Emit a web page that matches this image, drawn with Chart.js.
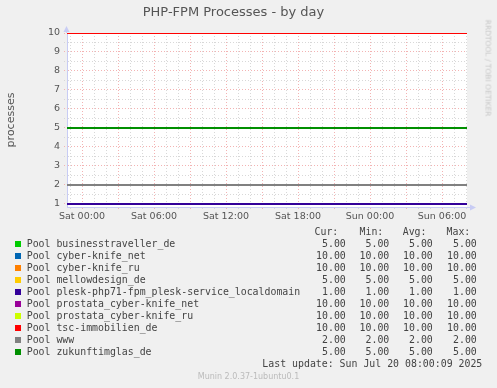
<!DOCTYPE html>
<html>
<head>
<meta charset="utf-8">
<script src="https://cdn.jsdelivr.net/npm/chart.js@4.4.1/dist/chart.umd.min.js"></script>
<style>
  html, body { margin: 0; padding: 0; background: #f0f0f0; }
  #wrap { position: relative; width: 497px; height: 388px; overflow: hidden; font-family: "DejaVu Sans", sans-serif; }
  #chart { position: absolute; left: 0; top: 0; }
  .t { position: absolute; white-space: pre; line-height: 12px; }
  .mono { font-family: "DejaVu Sans Mono", monospace; font-size: 9.9px; color: #444; }
  .sw { position: absolute; width: 6px; height: 6px; }
  #rrd { position: absolute; left: 488px; top: 68px; transform: translate(-50%, -50%) rotate(90deg);
         font-size: 7.5px; color: #c8c8c8; white-space: pre; }
  #munin { position: absolute; left: 0; width: 497px; top: 371px; text-align: center;
           font-size: 8px; color: #bbb; line-height: 12px; }
</style>
</head>
<body>
<div id="wrap">
  <canvas id="chart" width="497" height="227"></canvas>
  <div id="rrd">RRDTOOL / TOBI OETIKER</div>
  <div id="legend"></div>
  <div id="munin">Munin 2.0.37-1ubuntu0.1</div>
</div>
<script>
// pools, in munin drawing order
const pools = ['businesstraveller_de', 'cyber-knife_net', 'cyber-knife_ru', 'mellowdesign_de',
  'plesk-php71-fpm_plesk-service_localdomain', 'prostata_cyber-knife_net', 'prostata_cyber-knife_ru',
  'tsc-immobilien_de', 'www', 'zukunftimglas_de'];
const poolColors = ['#00CC00', '#0066B3', '#FF8000', '#FFCC00', '#330099',
  '#990099', '#CCFF00', '#FF0000', '#808080', '#008F00'];

const curValues = [5, 10, 10, 5, 1, 10, 10, 10, 2, 5];
const minValues = [5, 10, 10, 5, 1, 10, 10, 10, 2, 5];
const avgValues = [5, 10, 10, 5, 1, 10, 10, 10, 2, 5];
const maxValues = [5, 10, 10, 5, 1, 10, 10, 10, 2, 5];

// hours relative to Sat 00:00 (graph spans Fri 22:45 .. Sun 08:05)
const sampleHours = [-1.25, 32.0833];
const xLabelHours = [0, 6, 12, 18, 24, 30];
const xTickLabels = ['Sat 00:00', 'Sat 06:00', 'Sat 12:00', 'Sat 18:00', 'Sun 00:00', 'Sun 06:00'];
const xGridHours = [];
for (let h = -1; h <= 32; h++) xGridHours.push(h);
const yTickValues = [1, 2, 3, 4, 5, 6, 7, 8, 9, 10];
const yGridValues = [];
for (let v = 1; v <= 10; v += 0.5) yGridValues.push(v);

const lastUpdate = 'Last update: Sun Jul 20 08:00:09 2025';

const majorGrid = '#f3b3b3';
const minorGrid = '#d8d8d8';
const axisColor = '#c8ccf4';

const plotBg = {
  id: 'plotBg',
  beforeDraw(chart) {
    const a = chart.chartArea, ctx = chart.ctx;
    ctx.save();
    ctx.fillStyle = '#ffffff';
    ctx.fillRect(a.left, a.top, a.right - a.left, a.bottom - a.top);
    ctx.restore();
  },
  afterDraw(chart) {
    // rrdtool style axis arrows
    const a = chart.chartArea, ctx = chart.ctx;
    ctx.save();
    ctx.strokeStyle = axisColor;
    ctx.fillStyle = axisColor;
    ctx.lineWidth = 1;
    ctx.beginPath();
    ctx.moveTo(a.right, a.bottom + 0.5);
    ctx.lineTo(a.right + 4, a.bottom + 0.5);
    ctx.stroke();
    ctx.beginPath();
    ctx.moveTo(a.right + 9, a.bottom + 0.5);
    ctx.lineTo(a.right + 3, a.bottom - 2.5);
    ctx.lineTo(a.right + 3, a.bottom + 3.5);
    ctx.closePath();
    ctx.fill();
    ctx.beginPath();
    ctx.moveTo(a.left - 0.5, a.top - 7);
    ctx.lineTo(a.left - 3.5, a.top - 1);
    ctx.lineTo(a.left + 2.5, a.top - 1);
    ctx.closePath();
    ctx.fill();
    ctx.beginPath();
    ctx.moveTo(a.left - 0.5, a.top);
    ctx.lineTo(a.left - 0.5, a.top - 2);
    ctx.stroke();
    ctx.restore();
  }
};

new Chart(document.getElementById('chart').getContext('2d'), {
  type: 'line',
  data: {
    datasets: pools.map((p, i) => ({
      label: 'Pool ' + p,
      data: sampleHours.map(h => ({ x: h, y: curValues[i] })),
      borderColor: poolColors[i],
      borderWidth: 2,
      pointRadius: 0,
      tension: 0,
      order: pools.length - i
    }))
  },
  options: {
    responsive: false,
    animation: false,
    layout: { padding: { left: 0, top: 0, right: 30, bottom: 0 } },
    plugins: {
      legend: { display: false },
      tooltip: { enabled: false },
      title: {
        display: true,
        text: 'PHP-FPM Processes - by day',
        color: '#555',
        font: { family: 'DejaVu Sans', size: 13, weight: 'normal' },
        padding: { top: 5, bottom: 12.4 }
      }
    },
    scales: {
      x: {
        type: 'linear',
        min: sampleHours[0],
        max: sampleHours[1],
        afterBuildTicks: s => { s.ticks = xGridHours.map(v => ({ value: v })); },
        afterFit: s => { s.height = 20; },
        ticks: {
          autoSkip: false,
          maxRotation: 0,
          padding: 1,
          color: '#555',
          font: { family: 'DejaVu Sans', size: 9.5 },
          callback: v => {
            const k = xLabelHours.indexOf(v);
            return k >= 0 ? xTickLabels[k] : '';
          }
        },
        grid: {
          drawTicks: true,
          tickLength: 3,
          tickBorderDash: [1, 2],
          lineWidth: 1,
          color: ctx => (ctx.tick && ctx.tick.value % 3 === 0) ? majorGrid : minorGrid
        },
        border: { display: true, color: axisColor, width: 1, dash: ctx => ctx.type === 'tick' ? [1, 2] : [] }
      },
      y: {
        min: 0.84,
        max: 10,
        afterBuildTicks: s => { s.ticks = yGridValues.map(v => ({ value: v })); },
        afterFit: s => { s.width = 67; },
        ticks: {
          autoSkip: false,
          padding: 4,
          color: '#555',
          font: { family: 'DejaVu Sans', size: 9.5 },
          callback: v => yTickValues.includes(v) ? String(v) : ''
        },
        grid: {
          drawTicks: true,
          tickLength: 3,
          tickBorderDash: [1, 2],
          lineWidth: 1,
          color: ctx => (ctx.tick && Number.isInteger(ctx.tick.value)) ? majorGrid : minorGrid
        },
        border: { display: true, color: axisColor, width: 1, dash: ctx => ctx.type === 'tick' ? [1, 2] : [] },
        title: {
          display: true,
          text: 'processes',
          color: '#555',
          font: { family: 'DejaVu Sans', size: 11 },
          padding: { top: 5, bottom: 0 }
        }
      }
    }
  },
  plugins: [plotBg]
});

// legend (munin GPRINT block)
const legend = document.getElementById('legend');
function addText(txt, top, left, right) {
  const d = document.createElement('div');
  d.className = 't mono';
  d.textContent = txt;
  d.style.top = top + 'px';
  if (left !== null) d.style.left = left + 'px';
  if (right !== null) { d.style.right = (497 - right) + 'px'; d.style.textAlign = 'right'; }
  legend.appendChild(d);
}
const headers = ['Cur:', 'Min:', 'Avg:', 'Max:'];
const headerRight = [338.3, 383.3, 426.5, 470.3];
const valueRight = [345.8, 389.3, 432.8, 476.8];
headers.forEach((h, k) => addText(h, 226, null, headerRight[k]));
pools.forEach((p, i) => {
  const top = 238.3 + 12 * i;
  const sw = document.createElement('div');
  sw.className = 'sw';
  sw.style.left = '14.5px';
  sw.style.top = (top + 3) + 'px';
  sw.style.background = poolColors[i];
  legend.appendChild(sw);
  addText('Pool ' + p, top, 26.7, null);
  [curValues, minValues, avgValues, maxValues].forEach((arr, k) => {
    addText(arr[i].toFixed(2), top, null, valueRight[k]);
  });
});
addText(lastUpdate, 358.3, null, 482.3);
</script>
</body>
</html>
